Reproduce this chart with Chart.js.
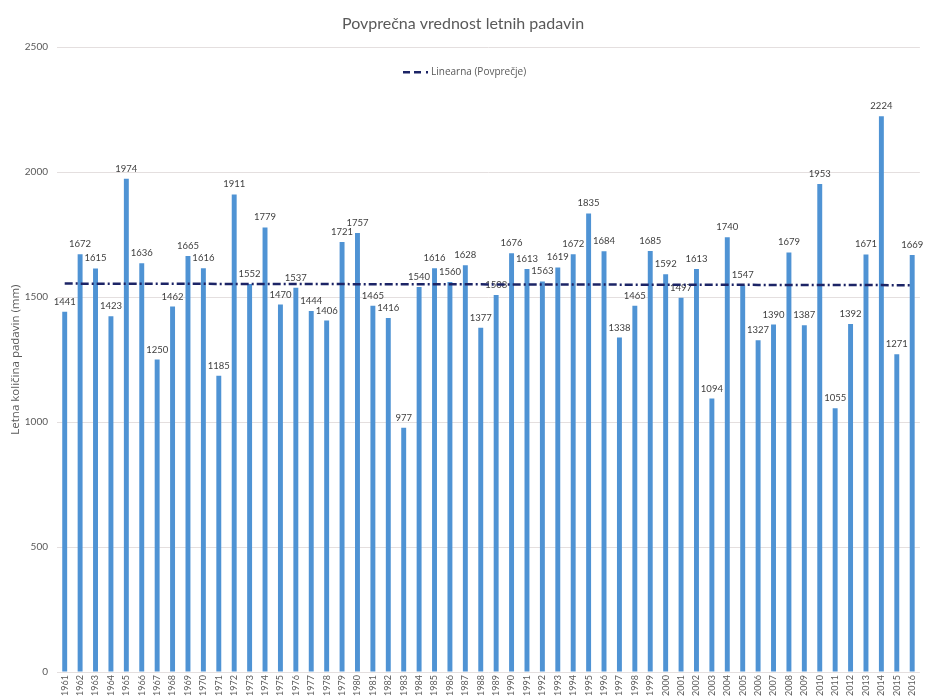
<!DOCTYPE html>
<html><head><meta charset="utf-8">
<script src="https://cdn.jsdelivr.net/npm/chart.js@4.4.1/dist/chart.umd.min.js"></script>
<style>html,body{margin:0;padding:0;background:#fff;overflow:hidden}#wrap{width:926px;height:700px;position:relative}</style>
</head><body><div id="wrap"><canvas id="c" width="926" height="700"></canvas></div>
<script>
const years = ['1961','1962','1963','1964','1965','1966','1967','1968','1969','1970',
  '1971','1972','1973','1974','1975','1976','1977','1978','1979','1980',
  '1981','1982','1983','1984','1985','1986','1987','1988','1989','1990',
  '1991','1992','1993','1994','1995','1996','1997','1998','1999','2000',
  '2001','2002','2003','2004','2005','2006','2007','2008','2009','2010',
  '2011','2012','2013','2014','2015','2016'];
const rainfall = [1441,1672,1615,1423,1974,1636,1250,1462,1665,1616,
  1185,1911,1552,1779,1470,1537,1444,1406,1721,1757,
  1465,1416,977,1540,1616,1560,1628,1377,1508,1676,
  1613,1563,1619,1672,1835,1684,1338,1465,1685,1592,
  1497,1613,1094,1740,1547,1327,1390,1679,1387,1953,
  1055,1392,1671,2224,1271,1669];
const yTickValues = [0,500,1000,1500,2000,2500];
const chartTitle = 'Povprečna vrednost letnih padavin';
const yAxisTitle = 'Letna količina padavin (mm)';
const trendLabel = 'Linearna (Povprečje)';

// least-squares linear trend of the series (like Excel's "Linearna" trendline)
function linearTrend(vals){
  const n = vals.length;
  let sx=0, sy=0, sxx=0, sxy=0;
  vals.forEach((v,i)=>{ sx+=i; sy+=v; sxx+=i*i; sxy+=i*v; });
  const b = (n*sxy - sx*sy)/(n*sxx - sx*sx);
  const a = (sy - b*sx)/n;
  return vals.map((v,i)=>a+b*i);
}
const trend = linearTrend(rainfall);

const FONT = 'Lato, "Liberation Sans", sans-serif';
const FONT2 = '"Open Sans", Lato, sans-serif';
const TEXT = '#595959';
const BAR = '#4f93d4';
const TREND = '#1c2466';
const TREND_DASH = [8,3,2,3];

const valueLabels = {
  id: 'valueLabels',
  afterDatasetDraw(chart, args){
    if (args.index !== 0) return;
    const ctx = chart.ctx;
    ctx.save();
    ctx.font = '9.5px ' + FONT;
    ctx.fillStyle = '#404040';
    ctx.textAlign = 'center';
    ctx.textBaseline = 'alphabetic';
    args.meta.data.forEach((bar,i)=>{
      ctx.fillText(String(rainfall[i]), bar.x, bar.y - 7);
    });
    ctx.restore();
  }
};

const trendLegend = {
  id: 'trendLegend',
  afterDraw(chart){
    const ctx = chart.ctx;
    const y = chart.chartArea.top + 25;
    const x0 = chart.width/2 - 60;
    ctx.save();
    ctx.strokeStyle = TREND;
    ctx.lineWidth = 2.5;
    ctx.setLineDash([7,4,7,5]);
    ctx.beginPath();
    ctx.moveTo(x0, y);
    ctx.lineTo(x0 + 18, y);
    ctx.stroke();
    ctx.setLineDash([]);
    ctx.beginPath();
    ctx.moveTo(x0 + 23, y);
    ctx.lineTo(x0 + 25, y);
    ctx.stroke();
    ctx.font = '10px ' + FONT2;
    ctx.fillStyle = TEXT;
    ctx.textAlign = 'left';
    ctx.textBaseline = 'middle';
    ctx.fillText(trendLabel, x0 + 28, y);
    ctx.restore();
  }
};

new Chart(document.getElementById('c'), {
  data: {
    labels: years,
    datasets: [
      { type: 'bar', label: 'Povprečje', data: rainfall, backgroundColor: BAR,
        barPercentage: 0.32, categoryPercentage: 1, order: 1 },
      { type: 'line', label: trendLabel, data: trend, borderColor: TREND,
        borderWidth: 2.5, borderDash: TREND_DASH, pointRadius: 0, fill: false,
        tension: 0, order: 0 }
    ]
  },
  options: {
    responsive: false,
    animation: false,
    layout: { padding: { left: 0, right: 0, top: 0, bottom: 0 } },
    plugins: {
      legend: { display: false },
      tooltip: { enabled: false },
      title: { display: true, text: chartTitle, color: TEXT,
        font: { family: FONT, size: 16, weight: 'normal' },
        padding: { top: 14, bottom: 14 } }
    },
    scales: {
      x: {
        offset: true,
        grid: { display: false, drawTicks: false },
        border: { display: false },
        ticks: { autoSkip: false, maxRotation: 90, minRotation: 90, color: TEXT,
          font: { family: FONT, size: 9 }, padding: 3 },
        afterFit(s){ s.height = 28; }
      },
      y: {
        min: 0, max: 2500,
        afterBuildTicks(s){ s.ticks = yTickValues.map(v=>({value:v})); },
        grid: { color: '#e4dfdf', drawTicks: false, lineWidth: 1 },
        border: { display: false },
        ticks: { color: TEXT, font: { family: FONT, size: 10 }, padding: 9,
          callback: (v)=>String(v) },
        title: { display: true, text: yAxisTitle, color: TEXT,
          font: { family: FONT2, size: 11.5, weight: 'normal' },
          padding: { top: 9, bottom: 0 } },
        afterFit(s){ s.width = 57; }
      }
    }
  },
  plugins: [valueLabels, trendLegend]
});
</script></body></html>
